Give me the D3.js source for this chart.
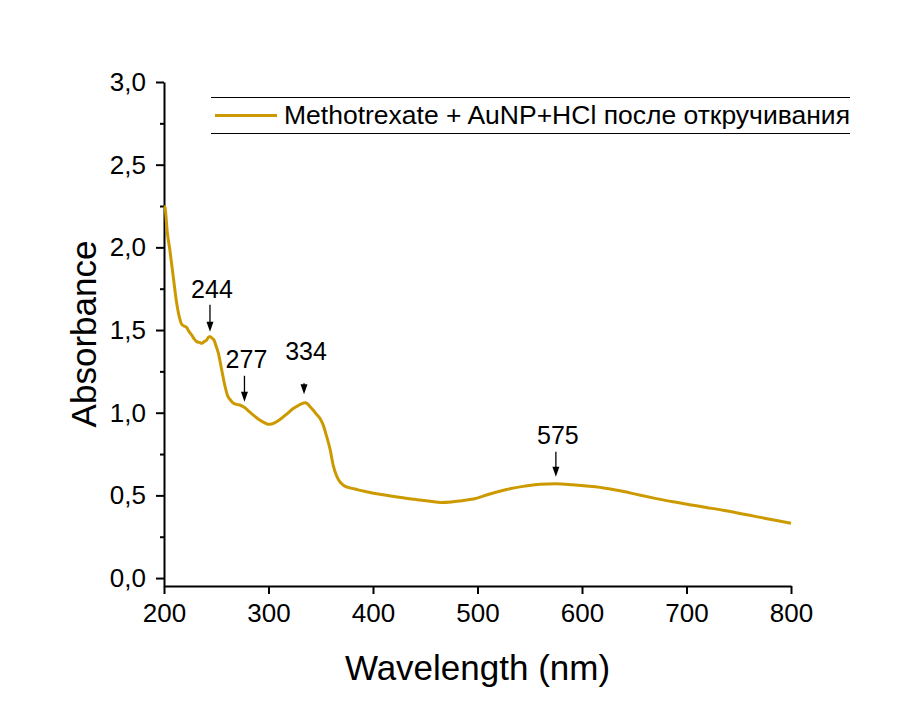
<!DOCTYPE html>
<html>
<head>
<meta charset="utf-8">
<script src="https://cdn.jsdelivr.net/npm/d3@7"></script>
<style>
    body { margin: 0; background: #fff; }
    svg { font-family: "Liberation Sans", Arial, sans-serif; }
</style>
</head>
<body>
<div id="chart"></div>
<script>
// spectrum
const wavelength = [200, 201, 203, 205.7, 208.9, 212.2, 215, 216.9, 219, 221.7, 224, 226.5, 229, 231.3, 234, 236.1,
    238.5, 240.9, 243, 244.5, 246, 247.8, 250, 252, 255.2, 258.4, 261, 263.2, 266, 269.6, 273, 277.5, 281, 285.5,
    291.9, 296, 299.8, 303, 306.2, 310, 314.2, 318, 323.7, 329, 332, 334.9, 337, 340, 342.9, 346, 349.3, 352.4,
    355.7, 358.9, 362, 365, 368, 372, 378, 385, 395, 405, 420, 440, 455, 465, 475, 485, 496, 510, 528, 545, 560,
    575, 591, 607, 624, 640, 655, 670, 687, 703, 719, 735, 751, 768, 785, 800];
const absorbance = [2.25, 2.24, 2.1, 1.98, 1.82, 1.66, 1.57, 1.535, 1.525, 1.515, 1.49, 1.47, 1.445, 1.43, 1.425, 1.42,
    1.43, 1.44, 1.46, 1.46, 1.45, 1.44, 1.4, 1.36, 1.26, 1.16, 1.1, 1.08, 1.06, 1.05, 1.045, 1.03, 1.01, 0.985,
    0.955, 0.94, 0.93, 0.932, 0.94, 0.955, 0.975, 0.995, 1.025, 1.045, 1.055, 1.06, 1.055, 1.035, 1.015, 0.99, 0.965, 0.925,
    0.855, 0.78, 0.68, 0.62, 0.585, 0.56, 0.545, 0.535, 0.52, 0.508, 0.493, 0.476, 0.464, 0.457, 0.46, 0.468,
    0.478, 0.505, 0.536, 0.556, 0.568, 0.57, 0.564, 0.555, 0.542, 0.523, 0.502, 0.482, 0.461, 0.444, 0.427, 0.41,
    0.391, 0.37, 0.35, 0.331];

// peak annotations: label, wavelength, absorbance at arrow tip
const peakLabels = ['244', '277', '334', '575'];
const peakWl = [244, 277, 334, 575];
const peakTip = [1.489, 1.066, 1.112, 0.612];
const arrowLen = [27, 26, 11, 25];
const labelGap = [7, 8, 23, 8];

const xTicks = [200, 300, 400, 500, 600, 700, 800];
const yTicks = [0, 0.5, 1.0, 1.5, 2.0, 2.5, 3.0];
const yMinor = [0.25, 0.75, 1.25, 1.75, 2.25, 2.75];

const legendText = 'Methotrexate + AuNP+HCl после откручивания';
const lineColor = '#cc9a00';

const width = 919;
const height = 704;
const margin = { top: 82, right: 128, bottom: 118, left: 164 };

const svg = d3.select('#chart').append('svg')
    .attr('width', width)
    .attr('height', height);

const x = d3.scaleLinear().domain([200, 800]).range([margin.left, width - margin.right]);
const y = d3.scaleLinear().domain([-0.048, 3.0]).range([height - margin.bottom, margin.top]);

const comma = d3.formatLocale({ decimal: ',', thousands: ' ', grouping: [3], currency: ['', ''] }).format('.1f');

// axes
const xAxis = svg.append('g')
    .attr('transform', `translate(0,${height - margin.bottom})`)
    .call(d3.axisBottom(x).tickValues(xTicks).tickSize(8).tickPadding(10).tickSizeOuter(0));

const yAxis = svg.append('g')
    .attr('transform', `translate(${margin.left},0)`)
    .call(d3.axisLeft(y).tickValues(yTicks).tickFormat(comma).tickSize(8).tickPadding(10).tickSizeOuter(0));

svg.append('g')
    .attr('transform', `translate(${margin.left},0)`)
    .call(d3.axisLeft(y).tickValues(yMinor).tickFormat('').tickSize(4).tickSizeOuter(0))
    .call((g) => g.select('.domain').remove())
    .selectAll('.tick line').attr('stroke', '#000').attr('stroke-width', 2);

[xAxis, yAxis].forEach((g) => {
    g.selectAll('.domain').attr('stroke', '#000').attr('stroke-width', 2);
    g.selectAll('.tick line').attr('stroke', '#000').attr('stroke-width', 2);
    g.selectAll('.tick text').attr('fill', '#000').style('font-size', '26px').style('font-family', '"Liberation Sans", Arial, sans-serif');
});

// titles
svg.append('text')
    .attr('x', (x.range()[0] + x.range()[1]) / 2)
    .attr('y', 680)
    .attr('text-anchor', 'middle')
    .style('font-size', '35px')
    .text('Wavelength (nm)');

svg.append('text')
    .attr('transform', `translate(96,${(y.range()[0] + y.range()[1]) / 2}) rotate(-90)`)
    .attr('text-anchor', 'middle')
    .style('font-size', '35px')
    .text('Absorbance');

// spectrum
const line = d3.line()
    .x((d, i) => x(wavelength[i]))
    .y((d) => y(d))
    .curve(d3.curveMonotoneX);

svg.append('path')
    .datum(absorbance)
    .attr('d', line)
    .attr('fill', 'none')
    .attr('stroke', lineColor)
    .attr('stroke-width', 3)
    .attr('stroke-linejoin', 'round');

// peak arrows + labels
const peaks = svg.append('g');
peakLabels.forEach((lab, i) => {
    const px = x(peakWl[i]);
    const tip = y(peakTip[i]);
    const top = tip - arrowLen[i];
    peaks.append('line')
        .attr('x1', px).attr('x2', px)
        .attr('y1', top).attr('y2', tip - 6)
        .attr('stroke', '#000')
        .attr('stroke-width', 1.3);
    peaks.append('path')
        .attr('d', `M${px - 3.5},${tip - 10} L${px + 3.5},${tip - 10} L${px},${tip} Z`)
        .attr('fill', '#000');
    peaks.append('text')
        .attr('x', px + 2)
        .attr('y', top - labelGap[i])
        .attr('text-anchor', 'middle')
        .style('font-size', '25px')
        .text(lab);
});

// legend
const legend = svg.append('g').attr('shape-rendering', 'crispEdges');
[97.5, 133.5].forEach((ly) => {
    legend.append('line')
        .attr('x1', 211).attr('x2', 850)
        .attr('y1', ly).attr('y2', ly)
        .attr('stroke', '#000')
        .attr('stroke-width', 1);
});
legend.append('line')
    .attr('x1', 215).attr('x2', 277)
    .attr('y1', 115.5).attr('y2', 115.5)
    .attr('stroke', lineColor)
    .attr('stroke-width', 3);
legend.append('text')
    .attr('x', 284)
    .attr('y', 124)
    .style('font-size', '26.5px')
    .text(legendText);
</script>
</body>
</html>
